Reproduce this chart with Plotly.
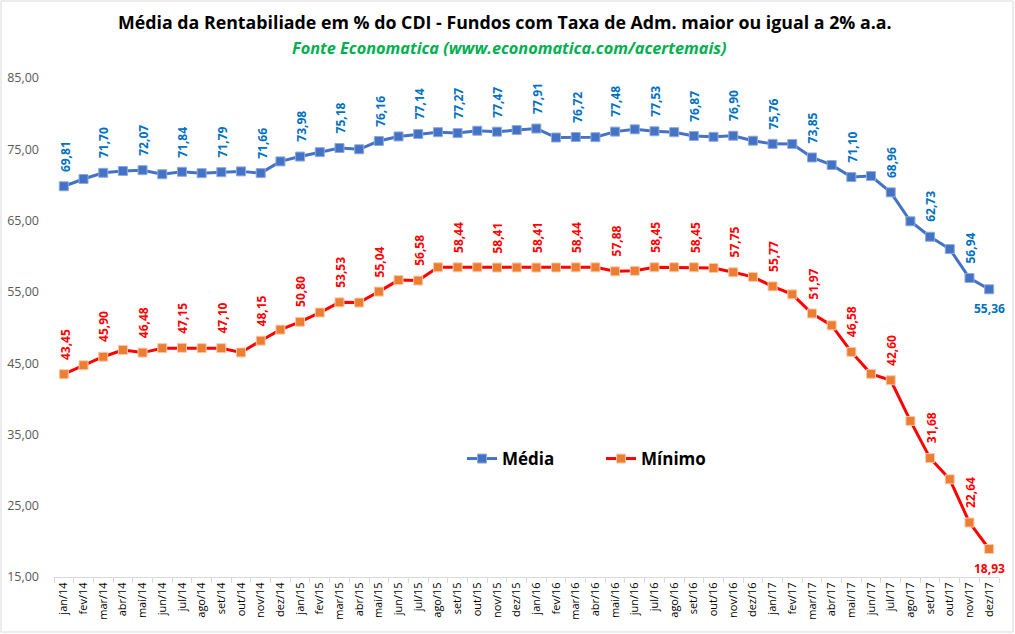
import plotly.graph_objects as go

months = ["jan", "fev", "mar", "abr", "mai", "jun", "jul", "ago", "set", "out", "nov", "dez"]
categories = [f"{m}/{y}" for y in ["14", "15", "16", "17"] for m in months]

media = [69.81, 70.83, 71.70, 71.95, 72.07, 71.50, 71.84, 71.65, 71.79, 71.90, 71.66, 73.30,
         73.98, 74.60, 75.18, 75.00, 76.16, 76.80, 77.14, 77.40, 77.27, 77.60, 77.47, 77.70,
         77.91, 76.65, 76.72, 76.70, 77.48, 77.80, 77.53, 77.40, 76.87, 76.75, 76.90, 76.20,
         75.76, 75.75, 73.85, 72.80, 71.10, 71.25, 68.96, 64.90, 62.73, 61.00, 56.94, 55.36]

minimo = [43.45, 44.70, 45.90, 46.85, 46.48, 47.10, 47.15, 47.10, 47.10, 46.50, 48.15, 49.70,
          50.80, 52.10, 53.53, 53.50, 55.04, 56.65, 56.58, 58.45, 58.44, 58.45, 58.41, 58.42,
          58.41, 58.42, 58.44, 58.44, 57.88, 57.95, 58.45, 58.45, 58.45, 58.35, 57.75, 57.10,
          55.77, 54.65, 51.97, 50.30, 46.58, 43.50, 42.60, 36.90, 31.68, 28.70, 22.64, 18.93]

y_ticks = [15, 25, 35, 45, 55, 65, 75, 85]

title = "Média da Rentabiliade em % do CDI - Fundos com Taxa de Adm. maior ou igual a 2% a.a."
subtitle = "Fonte Economatica (www.economatica.com/acertemais)"

BLUE = "#4472C4"
LBLUE = "#0070C0"
RED = "#FF0000"
ORANGE = "#ED7D31"
FONT = "Open Sans"

fig = go.Figure()
fig.add_trace(go.Scatter(
    x=categories, y=media, name="Média", mode="lines+markers",
    line=dict(color=BLUE, width=3),
    marker=dict(symbol="square", size=9, color=BLUE, line=dict(color="#8FAADC", width=1)),
))
fig.add_trace(go.Scatter(
    x=categories, y=minimo, name="Mínimo", mode="lines+markers",
    line=dict(color=RED, width=3),
    marker=dict(symbol="square", size=9, color=ORANGE, line=dict(color="#F8CBAD", width=1)),
))

def fmt(v):
    return f"{v:.2f}".replace(".", ",")

annotations = []
n = len(categories)
for series, color in [(media, LBLUE), (minimo, RED)]:
    for i in range(0, n - 1, 2):
        annotations.append(dict(
            x=categories[i], y=series[i], xref="x", yref="y",
            text=f"<b>{fmt(series[i])}</b>", showarrow=False, textangle=-90,
            xanchor="center", yanchor="middle", yshift=30, xshift=1,
            font=dict(family=FONT, size=12, color=color),
        ))
    annotations.append(dict(
        x=categories[-1], y=series[-1], xref="x", yref="y",
        text=f"<b>{fmt(series[-1])}</b>", showarrow=False,
        xanchor="center", yanchor="top", yshift=-9,
        font=dict(family=FONT, size=12, color=color),
    ))

PW, PH = 945, 499
annotations.append(dict(
    x=(505 - 54) / PW, y=(577 - 22) / PH, xref="paper", yref="paper",
    text=f"<b>{title}</b>", showarrow=False, xanchor="center", yanchor="middle",
    font=dict(family=FONT, size=17.8, color="#000000"),
))
annotations.append(dict(
    x=(509 - 54) / PW, y=(577 - 48) / PH, xref="paper", yref="paper",
    text=f"<b><i>{subtitle}</i></b>", showarrow=False, xanchor="center", yanchor="middle",
    font=dict(family=FONT, size=16.3, color="#00B050"),
))

fig.update_layout(
    width=1015, height=634,
    margin=dict(l=54, r=16, t=78, b=57, autoexpand=False),
    paper_bgcolor="white", plot_bgcolor="white",
    separators=",.",
    font=dict(family=FONT),
    showlegend=True,
    legend=dict(
        orientation="h", x=(462 - 54) / PW, y=(577 - 459) / PH,
        xanchor="left", yanchor="middle",
        font=dict(family=FONT, size=17, color="#000000", weight="bold"),
        bgcolor="rgba(0,0,0,0)", entrywidth=94, entrywidthmode="pixels",
        itemwidth=30,
    ),
    annotations=annotations,
    shapes=[dict(
        type="rect", xref="paper", yref="paper",
        x0=(1 - 54) / PW, x1=(1013 - 54) / PW, y0=(577 - 632) / PH, y1=(577 - 1) / PH,
        line=dict(color="#D9D9D9", width=1), fillcolor="rgba(0,0,0,0)", layer="below",
    )],
    xaxis=dict(
        type="category", categoryorder="array", categoryarray=categories,
        tickangle=-90, tickfont=dict(family=FONT, size=11, color="#000000"),
        showgrid=False, showline=True, linecolor="#D9D9D9", linewidth=1,
        ticks="outside", tickson="boundaries", ticklen=5, tickcolor="#D9D9D9",
        range=[-0.5, n - 0.5], automargin=False,
    ),
    yaxis=dict(
        range=[15, 85], tickvals=y_ticks, tickformat=".2f",
        tickfont=dict(family=FONT, size=12.5, color="#595959"),
        showgrid=False, zeroline=False, showline=False, ticks="",
        ticklabelstandoff=14, automargin=False,
    ),
)

fig.write_html(
    "out.html",
    config={"displayModeBar": False},
    post_script="document.body.style.margin='0px';document.body.style.overflow='hidden';",
)
